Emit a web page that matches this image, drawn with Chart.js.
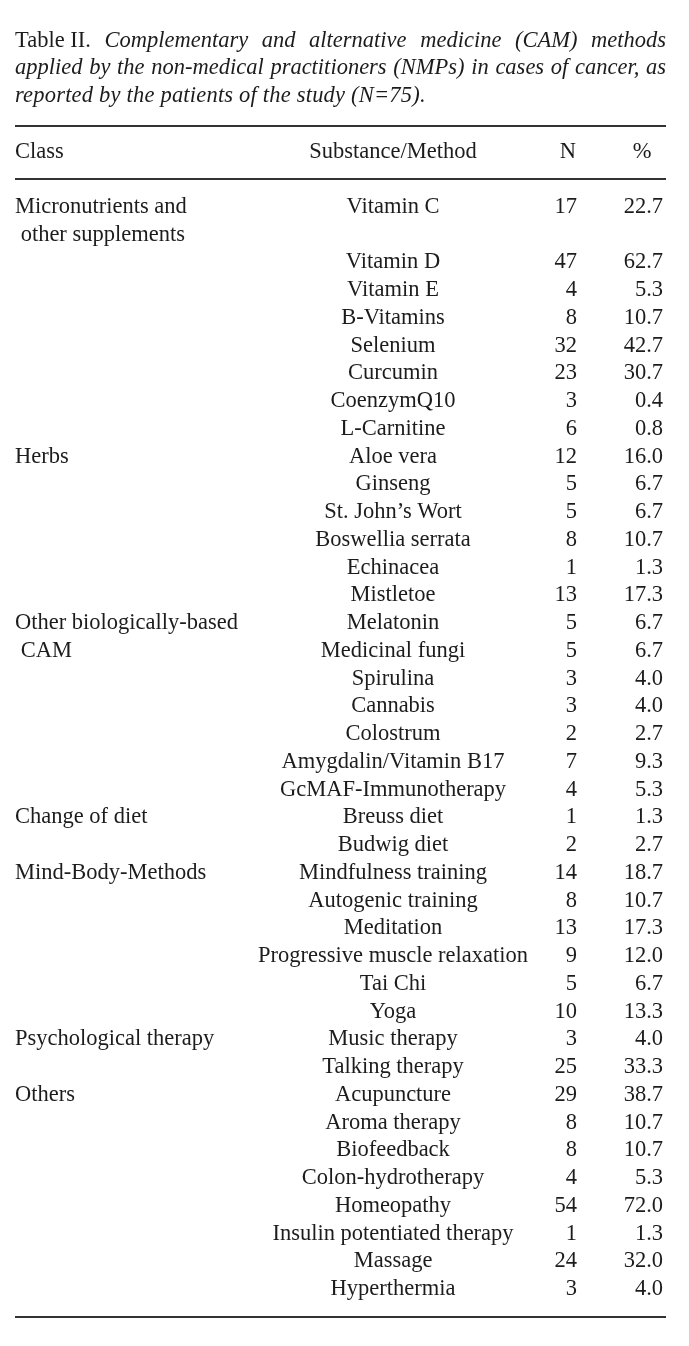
<!DOCTYPE html>
<html>
<head>
<meta charset="utf-8">
<script src="https://cdn.jsdelivr.net/npm/chart.js@4.4.1/dist/chart.umd.min.js"></script>
<style>
  body { margin: 0; background: #fff; }
  canvas { display: block; }
</style>
</head>
<body>
<canvas id="tableChart" width="689" height="1346"></canvas>
<script>
// table data
var captionLead = 'Table II.';
var captionLines = [
    'Complementary and alternative medicine (CAM) methods',
    'applied by the non-medical practitioners (NMPs) in cases of cancer, as',
    'reported by the patients of the study (N=75).'
];
var headers = ['Class', 'Substance/Method', 'N', '%'];

var classNames = ['Micronutrients and\n other supplements', 'Herbs', 'Other biologically-based\n CAM',
    'Change of diet', 'Mind-Body-Methods', 'Psychological therapy', 'Others'];
var classSizes = [8, 6, 7, 2, 6, 2, 8];

var substances = ['Vitamin C', 'Vitamin D', 'Vitamin E', 'B-Vitamins', 'Selenium', 'Curcumin', 'CoenzymQ10', 'L-Carnitine',
    'Aloe vera', 'Ginseng', 'St. John\u2019s Wort', 'Boswellia serrata', 'Echinacea', 'Mistletoe',
    'Melatonin', 'Medicinal fungi', 'Spirulina', 'Cannabis', 'Colostrum', 'Amygdalin/Vitamin B17', 'GcMAF-Immunotherapy',
    'Breuss diet', 'Budwig diet',
    'Mindfulness training', 'Autogenic training', 'Meditation', 'Progressive muscle relaxation', 'Tai Chi', 'Yoga',
    'Music therapy', 'Talking therapy',
    'Acupuncture', 'Aroma therapy', 'Biofeedback', 'Colon-hydrotherapy', 'Homeopathy', 'Insulin potentiated therapy', 'Massage', 'Hyperthermia'];
var counts = [17, 47, 4, 8, 32, 23, 3, 6,
    12, 5, 5, 8, 1, 13,
    5, 5, 3, 3, 2, 7, 4,
    1, 2,
    14, 8, 13, 9, 5, 10,
    3, 25,
    29, 8, 8, 4, 54, 1, 24, 3];
var percents = ['22.7', '62.7', '5.3', '10.7', '42.7', '30.7', '0.4', '0.8',
    '16.0', '6.7', '6.7', '10.7', '1.3', '17.3',
    '6.7', '6.7', '4.0', '4.0', '2.7', '9.3', '5.3',
    '1.3', '2.7',
    '18.7', '10.7', '17.3', '12.0', '6.7', '13.3',
    '4.0', '33.3',
    '38.7', '10.7', '10.7', '5.3', '72.0', '1.3', '32.0', '4.0'];

// column anchors on the x scale
var COL_CLASS = 15, COL_SUBST = 393, COL_N = 577, COL_PCT = 663;
var FONT = '"Liberation Serif", "Times New Roman", serif';
var SIZE = 22.5;
var INK = '#1c1c1c';

// the first class label wraps to two lines and pushes the next row down
function lineOf(i) { return i === 0 ? 0 : i + 1 }

var classRows = [];
var start = 0;
classSizes.forEach(function (n) { classRows.push(lineOf(start)); start += n });

function pts(x, count) {
    var out = [];
    for (var i = 0; i < count; i++) out.push({ x: x, y: lineOf(i) });
    return out;
}

var tableText = {
    id: 'tableText',
    afterDatasetsDraw: function (chart) {
        var ctx = chart.ctx;
        var xs = chart.scales.x, ys = chart.scales.y;
        ctx.save();
        ctx.fillStyle = INK;
        ctx.textBaseline = 'alphabetic';
        ctx.textAlign = 'left';
        var up = SIZE + 'px ' + FONT;
        var it = 'italic ' + SIZE + 'px ' + FONT;
        var left = xs.getPixelForValue(15), right = xs.getPixelForValue(666);

        // caption: first two lines justified, last one ragged
        captionLines.forEach(function (line, li) {
            var y = ys.getPixelForValue(-6 + li);
            var last = li === captionLines.length - 1;
            ctx.letterSpacing = last ? '0.2px' : '0px';
            var items = line.split(' ');
            var fonts = items.map(function () { return it });
            if (li === 0) { items.unshift(captionLead); fonts.unshift(up) }
            var widths = items.map(function (w, k) { ctx.font = fonts[k]; return ctx.measureText(w).width });
            ctx.font = it;
            var space = ctx.measureText(' ').width;
            var total = widths.reduce(function (a, b) { return a + b }, 0);
            var gap = last ? space : (right - left - total) / (items.length - 1);
            var x = left;
            items.forEach(function (w, k) {
                ctx.font = fonts[k];
                ctx.fillText(w, x, y);
                x += widths[k] + gap;
            });
        });
        ctx.letterSpacing = '0px';

        // rules
        ctx.strokeStyle = '#333';
        ctx.lineWidth = 2;
        [-3.15, -1.22, 39.78].forEach(function (v) {
            var y = Math.round(ys.getPixelForValue(v));
            ctx.beginPath();
            ctx.moveTo(left, y);
            ctx.lineTo(right, y);
            ctx.stroke();
        });

        // header
        ctx.font = up;
        var hy = ys.getPixelForValue(-2);
        ctx.textAlign = 'left';
        ctx.fillText(headers[0], xs.getPixelForValue(COL_CLASS), hy);
        ctx.textAlign = 'center';
        ctx.fillText(headers[1], xs.getPixelForValue(COL_SUBST), hy);
        ctx.textAlign = 'right';
        ctx.fillText(headers[2], xs.getPixelForValue(COL_N - 1), hy);
        ctx.textAlign = 'center';
        ctx.fillText(headers[3], xs.getPixelForValue(642), hy);

        // body cells, one dataset per column
        var texts = [classNames, substances, counts, percents];
        var aligns = ['left', 'center', 'right', 'right'];
        chart.data.datasets.forEach(function (ds, di) {
            var meta = chart.getDatasetMeta(di);
            ctx.textAlign = aligns[di];
            meta.data.forEach(function (el, i) {
                var parts = String(texts[di][i]).split('\n');
                parts.forEach(function (p, k) {
                    var y = k === 0 ? el.y : ys.getPixelForValue(ds.data[i].y + k);
                    ctx.fillText(p, el.x, y);
                });
            });
        });
        ctx.restore();
    }
};

var ctx = document.getElementById('tableChart');
var chart = new Chart(ctx, {
    type: 'scatter',
    data: {
        datasets: [{
            label: 'Class',
            data: classRows.map(function (r) { return { x: COL_CLASS, y: r } }),
            pointRadius: 0
        }, {
            label: 'Substance/Method',
            data: pts(COL_SUBST, substances.length),
            pointRadius: 0
        }, {
            label: 'N',
            data: pts(COL_N, counts.length),
            pointRadius: 0
        }, {
            label: '%',
            data: pts(COL_PCT, percents.length),
            pointRadius: 0
        }]
    },
    options: {
        responsive: false,
        animation: false,
        devicePixelRatio: 1,
        layout: { padding: { left: 0, right: 0, top: 213, bottom: 51 } },
        plugins: { legend: { display: false }, tooltip: { enabled: false } },
        scales: {
            x: { type: 'linear', display: false, min: 0, max: 689 },
            y: { type: 'linear', display: false, min: 0, max: 39, reverse: true }
        }
    },
    plugins: [tableText]
});
</script>
</body>
</html>
